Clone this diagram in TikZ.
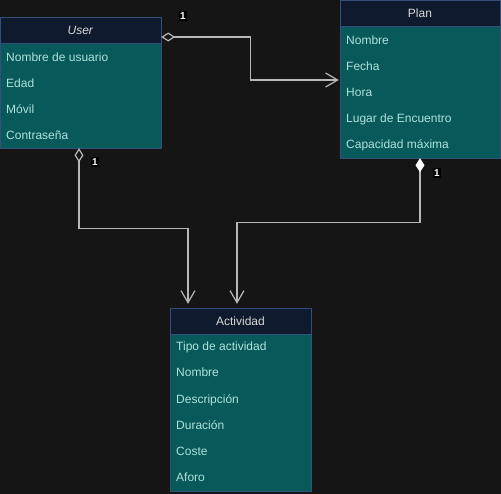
\documentclass[tikz,border=0pt]{standalone}
\usepackage{fontspec}
\setmainfont{Liberation Sans}
\usepackage{tikz}
\usetikzlibrary{arrows.meta}
\usetikzlibrary{positioning}
\definecolor{bgcol}{HTML}{151515}
\definecolor{headcol}{HTML}{0F1A2E}
\definecolor{boxline}{HTML}{34507A}
\definecolor{bodycol}{HTML}{07595A}
\definecolor{rowtext}{HTML}{B0E2DC}
\definecolor{headtext}{HTML}{D8D8D8}
\definecolor{linecol}{HTML}{B8B8B8}

\begin{document}
\begin{tikzpicture}[x=1pt,y=-1pt,
    head node/.style={rectangle,draw=boxline,fill=headcol,text=headtext,font=\fontsize{12}{14}\selectfont,minimum height=26pt,inner sep=0pt},
    body node/.style={rectangle,draw=boxline,fill=bodycol,inner sep=0pt},
    row node/.style={anchor=west,text=rowtext,font=\fontsize{12}{14}\selectfont,inner sep=0pt,text height=10pt,text depth=0pt},
    mult node/.style={fill=black,text=white,font=\bfseries\fontsize{10}{11}\selectfont,inner xsep=1pt,inner ysep=2pt},
    agg link/.style={draw=linecol,line width=1.2pt,{Diamond[open,length=14pt,width=9pt]}-{Straight Barb[length=12pt,width=14pt]}},
    comp link/.style={draw=linecol,line width=1.2pt,{Diamond[fill=white,color=white,length=14pt,width=9pt]}-{Straight Barb[length=12pt,width=14pt]}}]
   \path[use as bounding box,fill=bgcol] (0,0) rectangle (501,494);
   \begin{scope}
     % User
     \node[head node,minimum width=161pt] (userh) at (80.5,30) {\textit{User}};
     \node[body node,minimum width=161pt,minimum height=105pt] (userb) at (80.5,95.5) {};
     \node[row node] (u1) at (6,57) {Nombre de usuario};
     \node[row node] (u2) at (6,83) {Edad};
     \node[row node] (u3) at (6,109) {Móvil};
     \node[row node] (u4) at (6,135) {Contraseña};
     % Plan
     \node[head node,minimum width=160pt] (planh) at (420,13) {Plan};
     \node[body node,minimum width=160pt,minimum height=132pt] (planb) at (420,92) {};
     \node[row node] (p1) at (346,40) {Nombre};
     \node[row node] (p2) at (346,66) {Fecha};
     \node[row node] (p3) at (346,92) {Hora};
     \node[row node] (p4) at (346,118) {Lugar de Encuentro};
     \node[row node] (p5) at (346,144) {Capacidad máxima};
     % Actividad
     \node[head node,minimum width=141pt] (acth) at (240.5,321) {Actividad};
     \node[body node,minimum width=141pt,minimum height=157pt] (actb) at (240.5,412.5) {};
     \node[row node] (a1) at (176,346) {Tipo de actividad};
     \node[row node] (a2) at (176,372) {Nombre};
     \node[row node] (a3) at (176,398) {Descripción};
     \node[row node] (a4) at (176,424) {Duración};
     \node[row node] (a5) at (176,450) {Coste};
     \node[row node] (a6) at (176,476) {Aforo};
      \path[agg link] ([yshift=-7pt]userh.east) -- ++(89,0) |- ([yshift=12pt,xshift=-1pt]planb.west);
      \path[agg link,shorten >=4pt] ([xshift=-1.5pt]userb.south) -- ++(0,80) -| ([xshift=-52.5pt]acth.north);
      \path[comp link,shorten >=4pt] (planb.south) -- ++(0,64) -| ([xshift=-3.5pt]acth.north);
     \node[mult node] (m1) at (183,16) {1};
     \node[mult node] (m2) at (95,162) {1};
     \node[mult node] (m3) at (437,173) {1};
    \end{scope}
  \end{tikzpicture}
\end{document}
